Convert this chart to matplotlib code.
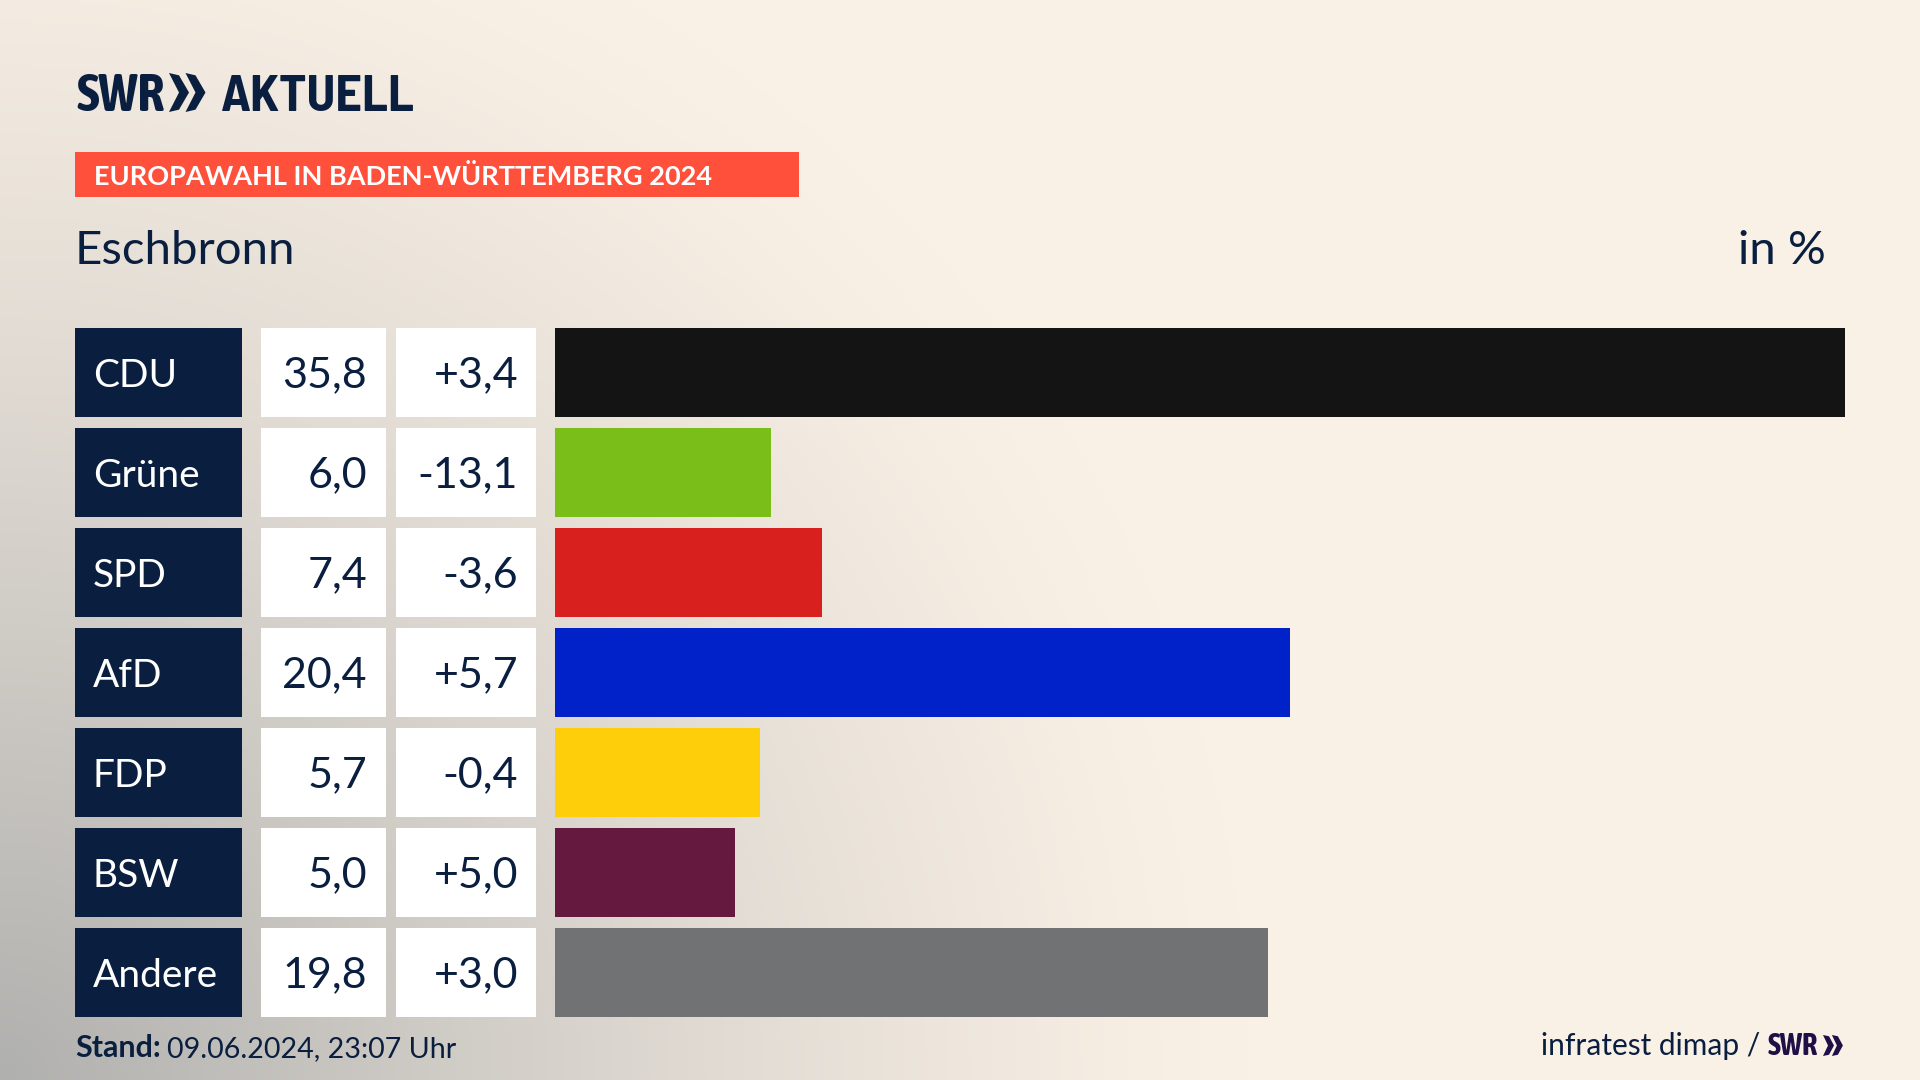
import numpy as np
import matplotlib.pyplot as plt
from matplotlib.patches import Rectangle, Polygon

parties = ['CDU', 'Grüne', 'SPD', 'AfD', 'FDP', 'BSW', 'Andere']
shares = [35.8, 6.0, 7.4, 20.4, 5.7, 5.0, 19.8]
changes = ['+3,4', '-13,1', '-3,6', '+5,7', '-0,4', '+5,0', '+3,0']
bar_colors = ['#141414', '#7ABE19', '#D8201E', '#0022C8', '#FFCE0A', '#66193E', '#717274']

NAVY = '#0A1F3F'
FONT = 'Lato'
NARROW = ['Asap Condensed', 'Lato']
SEMI = ['Barlow Semi Condensed', 'Lato']

fig = plt.figure(figsize=(19.2, 10.8), dpi=100)

# page axes in pixels, y pointing down
page = fig.add_axes([0, 0, 1, 1])
page.set_xlim(0, 1920)
page.set_ylim(1080, 0)
page.axis('off')

# background: cream with a grey glow from the lower left corner
xx, yy = np.meshgrid(np.linspace(0, 1920, 480), np.linspace(0, 1080, 270))
glow = np.clip(1 - np.sqrt((xx / 1250) ** 2 + ((1080 - yy) / 1250) ** 2), 0, 1) ** 1.25
cream = np.array([250, 241, 230]) / 255
grey = np.array([176, 176, 174]) / 255
bg = cream + (grey - cream) * glow[..., None]
page.imshow(bg, extent=(0, 1920, 1080, 0), aspect='auto', zorder=0)


def chevrons(x, y, h, w, t, color):
    for off in (0, w - t * 0.35):
        x0 = x + off
        page.add_patch(Polygon([(x0, y), (x0 + t, y + h * 0.06), (x0 + w, y + h / 2),
                                (x0 + t, y + h * 0.94), (x0, y + h), (x0 + w - t, y + h / 2)],
                               closed=True, color=color, lw=0, zorder=3))


# logo
page.text(76, 111, 'SWR', family=NARROW, weight='bold', fontsize=38.5, color=NAVY, va='baseline')
chevrons(169, 73, 39, 20, 10, NAVY)
page.text(220, 111, 'AKTUELL', family=SEMI, weight='bold', fontsize=37.5, color=NAVY, va='baseline')

# header
page.add_patch(Rectangle((75, 152), 724, 45, color='#FF503C', lw=0, zorder=2))
page.text(94, 185, 'EUROPAWAHL IN BADEN-WÜRTTEMBERG 2024', family=FONT, weight='bold',
          fontsize=19.5, color='white', va='baseline', zorder=3)
page.text(75, 264, 'Eschbronn', family=FONT, fontsize=34, color=NAVY, va='baseline')
page.text(1826, 264, 'in %', family=FONT, fontsize=34, color=NAVY, va='baseline', ha='right')

# table columns
for i, party in enumerate(parties):
    top = 328 + i * 100
    base = top + 59
    page.add_patch(Rectangle((75, top), 167, 89, color=NAVY, lw=0, zorder=2))
    page.add_patch(Rectangle((261, top), 125, 89, color='white', lw=0, zorder=2))
    page.add_patch(Rectangle((396, top), 140, 89, color='white', lw=0, zorder=2))
    page.text(93, base, party, family=FONT, fontsize=28, color='white', va='baseline', zorder=3)
    page.text(367, base, f'{shares[i]:.1f}'.replace('.', ','), family=FONT, fontsize=31,
              color=NAVY, va='baseline', ha='right', zorder=3)
    page.text(518, base, changes[i], family=FONT, fontsize=31,
              color=NAVY, va='baseline', ha='right', zorder=3)

# footer
page.text(75, 1057, 'Stand:', family=FONT, weight='bold', fontsize=22, color=NAVY, va='baseline')
page.text(167, 1057, '09.06.2024, 23:07 Uhr', family=FONT, fontsize=20.6, color=NAVY, va='baseline')
page.text(1760, 1055, 'infratest dimap /', family=FONT, fontsize=21.5, color=NAVY, va='baseline', ha='right')
page.text(1768, 1055, 'SWR', family=NARROW, weight='bold', fontsize=22, color='#1E0F46', va='baseline')
chevrons(1823, 1035, 21, 11, 6, '#1E0F46')

# bars
ax = fig.add_axes([555 / 1920, 1 - 1017 / 1080, 1290 / 1920, 689 / 1080])
ax.patch.set_alpha(0)
ax.barh(range(len(parties)), shares, height=0.89, color=bar_colors)
ax.set_xlim(0, max(shares))
ax.set_ylim(len(parties) - 0.555, -0.445)
ax.axis('off')

plt.savefig('out.png', dpi=100)
plt.close()
